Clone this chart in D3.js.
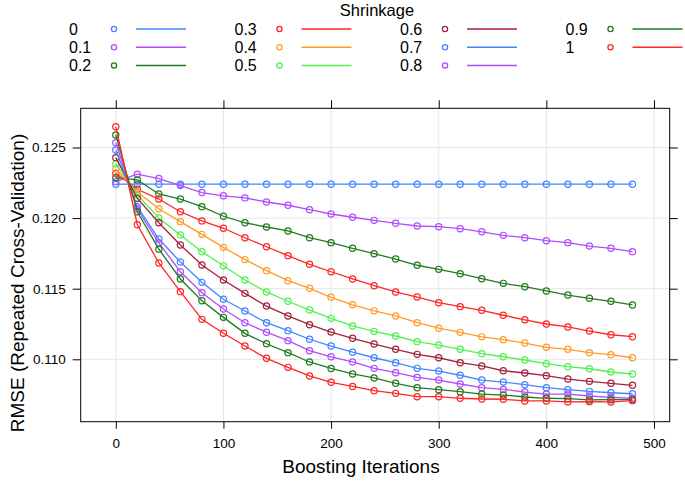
<!DOCTYPE html>
<html><head><meta charset="utf-8">
<script src="https://cdn.jsdelivr.net/npm/d3@7"></script>
<style>html,body{margin:0;padding:0;background:#fff;}svg{display:block;font-family:"Liberation Sans",Arial,sans-serif;}</style>
</head><body><svg id="chart" width="685" height="484"></svg>
<script>
const iterations = [0,20,40,60,80,100,120,140,160,180,200,220,240,260,280,300,320,340,360,380,400,420,440,460,480];
const shrinkage = ["0","0.1","0.2","0.3","0.4","0.5","0.6","0.7","0.8","0.9","1"];
const xTicks = [0,100,200,300,400,500];
const yTicks = [0.110,0.115,0.120,0.125];
const rmse_0   = [0.1224,0.1224,0.1224,0.1224,0.1224,0.1224,0.1224,0.1224,0.1224,0.1224,0.1224,0.1224,0.1224,0.1224,0.1224,0.1224,0.1224,0.1224,0.1224,0.1224,0.1224,0.1224,0.1224,0.1224,0.1224];
const rmse_0_1 = [0.12258,0.12311,0.12280,0.12230,0.12181,0.12158,0.12143,0.12114,0.12091,0.12060,0.12029,0.12006,0.11984,0.11963,0.11944,0.11939,0.11925,0.11903,0.11878,0.11861,0.11840,0.11826,0.11802,0.11786,0.11762];
const rmse_0_2 = [0.12286,0.12270,0.12171,0.12135,0.12081,0.12013,0.11967,0.11937,0.11909,0.11861,0.11826,0.11786,0.11748,0.11710,0.11666,0.11637,0.11606,0.11571,0.11538,0.11514,0.11484,0.11455,0.11432,0.11411,0.11385];
const rmse_0_3 = [0.12317,0.12204,0.12135,0.12045,0.11980,0.11928,0.11861,0.11797,0.11734,0.11673,0.11620,0.11569,0.11521,0.11477,0.11441,0.11401,0.11373,0.11347,0.11312,0.11280,0.11250,0.11229,0.11200,0.11174,0.11160];
const rmse_0_4 = [0.12348,0.12185,0.12066,0.11975,0.11885,0.11793,0.11706,0.11628,0.11557,0.11503,0.11439,0.11386,0.11343,0.11307,0.11259,0.11220,0.11191,0.11159,0.11139,0.11115,0.11085,0.11071,0.11047,0.11033,0.11011];
const rmse_0_5 = [0.12385,0.12164,0.12001,0.11880,0.11762,0.11662,0.11562,0.11477,0.11411,0.11349,0.11290,0.11236,0.11198,0.11165,0.11125,0.11101,0.11071,0.11040,0.11018,0.10995,0.10969,0.10948,0.10933,0.10910,0.10896];
const rmse_0_6 = [0.12428,0.12140,0.11967,0.11810,0.11668,0.11562,0.11467,0.11377,0.11307,0.11245,0.11193,0.11149,0.11108,0.11071,0.11035,0.11011,0.10976,0.10953,0.10919,0.10903,0.10884,0.10860,0.10844,0.10830,0.10816];
const rmse_0_7 = [0.12482,0.12081,0.11852,0.11689,0.11545,0.11425,0.11342,0.11259,0.11203,0.11142,0.11094,0.11050,0.11011,0.10976,0.10936,0.10917,0.10887,0.10853,0.10839,0.10820,0.10799,0.10785,0.10773,0.10763,0.10756];
const rmse_0_8 = [0.12534,0.12064,0.11824,0.11620,0.11472,0.11356,0.11259,0.11192,0.11132,0.11061,0.11018,0.10981,0.10936,0.10905,0.10872,0.10853,0.10825,0.10799,0.10787,0.10768,0.10754,0.10754,0.10740,0.10731,0.10724];
const rmse_0_9 = [0.12589,0.12045,0.11780,0.11569,0.11415,0.11297,0.11184,0.11110,0.11047,0.10981,0.10935,0.10896,0.10868,0.10830,0.10799,0.10785,0.10771,0.10754,0.10747,0.10733,0.10724,0.10721,0.10712,0.10714,0.10714];
const rmse_1   = [0.12647,0.11953,0.11682,0.11479,0.11283,0.11184,0.11094,0.11007,0.10943,0.10882,0.10837,0.10808,0.10778,0.10759,0.10735,0.10735,0.10724,0.10719,0.10717,0.10705,0.10705,0.10698,0.10700,0.10698,0.10707];
const seriesValues = [rmse_0,rmse_0_1,rmse_0_2,rmse_0_3,rmse_0_4,rmse_0_5,rmse_0_6,rmse_0_7,rmse_0_8,rmse_0_9,rmse_1];
const palette = ["#4285ff","#b24cff","#217a21","#ff2626","#ff9b26","#52f052","#a6213b"];

const svg = d3.select("#chart");
const L = 80.7, R = 669.7, T = 108.3, B = 421.7;
const x = d3.scaleLinear().domain([-32.6, 514.6]).range([L, R]);
const y = d3.scaleLinear().domain([0.105581, 0.127776]).range([B, T]);
const color = i => palette[i % palette.length];

// grid
const grid = svg.append("g");
grid.selectAll(".gx").data(xTicks).join("line")
  .attr("x1", d => x(d)).attr("x2", d => x(d)).attr("y1", T).attr("y2", B)
  .attr("stroke", "#e6e6e6").attr("stroke-width", 1);
grid.selectAll(".gy").data(yTicks).join("line")
  .attr("y1", d => y(d)).attr("y2", d => y(d)).attr("x1", L).attr("x2", R)
  .attr("stroke", "#e6e6e6").attr("stroke-width", 1);

// axes
const fmtY = d3.format(".3f");
const axStyle = g => { g.select(".domain").remove(); g.selectAll(".tick line").attr("stroke","#000"); g.selectAll("text").attr("fill","#000").style("font-size","13.5px").style("font-family","'Liberation Sans',Arial,sans-serif"); };
svg.append("g").attr("transform", `translate(0,${B})`)
  .call(d3.axisBottom(x).tickValues(xTicks).tickSize(7).tickPadding(10).tickFormat(d3.format("d"))).call(axStyle);
svg.append("g").attr("transform", `translate(0,${T})`)
  .call(d3.axisTop(x).tickValues(xTicks).tickSize(8).tickFormat("")).call(axStyle);
svg.append("g").attr("transform", `translate(${L},0)`)
  .call(d3.axisLeft(y).tickValues(yTicks).tickSize(8).tickPadding(7).tickFormat(fmtY)).call(axStyle);
svg.append("g").attr("transform", `translate(${R},0)`)
  .call(d3.axisRight(y).tickValues(yTicks).tickSize(8).tickFormat("")).call(axStyle);

// series
const line = d3.line().x((d,i) => x(iterations[i])).y(d => y(d));
const plot = svg.append("g");
seriesValues.forEach((vals, si) => {
  plot.append("path").datum(vals).attr("d", line)
    .attr("fill","none").attr("stroke", color(si)).attr("stroke-width", 1.3);
  plot.selectAll(null).data(vals).join("circle")
    .attr("cx", (d,i) => x(iterations[i])).attr("cy", d => y(d)).attr("r", 3.1)
    .attr("fill","none").attr("stroke", color(si)).attr("stroke-width", 1.2);
});

// frame
svg.append("rect").attr("x", L).attr("y", T).attr("width", R-L).attr("height", B-T)
  .attr("fill","none").attr("stroke","#000").attr("stroke-width",1);

// axis titles
svg.append("text").attr("x", 361).attr("y", 473).attr("text-anchor","middle")
  .style("font-size","19px").text("Boosting Iterations");
svg.append("text").attr("transform","translate(24,283) rotate(-90)").attr("text-anchor","middle")
  .style("font-size","19px").text("RMSE (Repeated Cross-Validation)");

// legend
svg.append("text").attr("x", 377).attr("y", 16).attr("text-anchor","middle")
  .style("font-size","16.5px").text("Shrinkage");
const leg = svg.append("g");
shrinkage.forEach((lab, i) => {
  const col = Math.floor(i / 3), row = i % 3;
  const bx = 69 + col * 165.5, cy = 29 + row * 18.2;
  leg.append("text").attr("x", bx).attr("y", cy + 6).style("font-size","16px").text(lab);
  leg.append("circle").attr("cx", bx + 45).attr("cy", cy).attr("r", 2.6)
    .attr("fill","none").attr("stroke", color(i)).attr("stroke-width", 1.3);
  leg.append("line").attr("x1", bx + 67).attr("x2", bx + 117).attr("y1", cy).attr("y2", cy)
    .attr("stroke", color(i)).attr("stroke-width", 1.5);
});
</script></body></html>
